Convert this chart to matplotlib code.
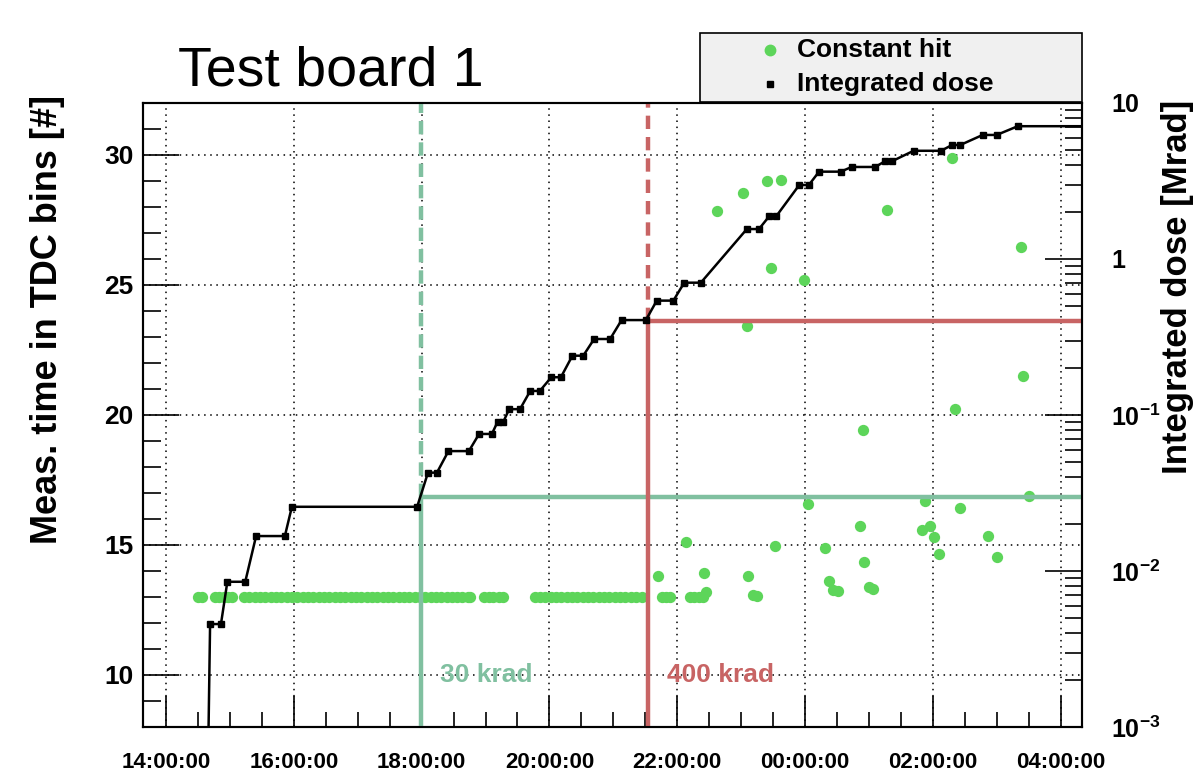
import matplotlib
matplotlib.use('Agg')
import matplotlib.pyplot as plt
from matplotlib.patches import Rectangle
from matplotlib.lines import Line2D
from matplotlib.ticker import MultipleLocator, FixedLocator, FixedFormatter, LogLocator, NullFormatter

plt.rcParams['font.family'] = ['Liberation Sans', 'DejaVu Sans']
plt.rcParams['mathtext.fontset'] = 'custom'
plt.rcParams['mathtext.bf'] = 'Liberation Sans:bold'
plt.rcParams['mathtext.rm'] = 'Liberation Sans:bold'

# time axis in hours (values past 24 are after midnight)
tick_hours = [14, 16, 18, 20, 22, 24, 26, 28]
tick_labels = ['14:00:00', '16:00:00', '18:00:00', '20:00:00',
               '22:00:00', '00:00:00', '02:00:00', '04:00:00']

# integrated dose [Mrad]
dose_time = [14.63, 14.69, 14.86, 14.96, 15.24, 15.41, 15.86, 15.97, 17.93, 18.10,
             18.24, 18.42, 18.74, 18.90, 19.10, 19.19, 19.28, 19.37, 19.54, 19.70,
             19.85, 20.03, 20.18, 20.36, 20.53, 20.70, 20.95, 21.13, 21.51, 21.68,
             21.94, 22.11, 22.37, 23.09, 23.28, 23.44, 23.55, 23.91, 24.06, 24.22,
             24.56, 24.73, 25.10, 25.25, 25.36, 25.70, 26.13, 26.30, 26.43, 26.78,
             27.00, 27.33, 28.60]
dose_val = [1e-4, 0.00457, 0.00457, 0.00853, 0.00853, 0.01675, 0.01675, 0.0258, 0.0258, 0.0427,
            0.0427, 0.0587, 0.0587, 0.0756, 0.0756, 0.0906, 0.0906, 0.109, 0.109, 0.1426,
            0.1426, 0.1746, 0.1746, 0.240, 0.240, 0.307, 0.307, 0.406, 0.406, 0.541,
            0.541, 0.705, 0.705, 1.556, 1.556, 1.88, 1.88, 2.98, 2.98, 3.63,
            3.63, 3.89, 3.89, 4.23, 4.23, 4.94, 4.94, 5.38, 5.38, 6.24,
            6.24, 7.10, 7.10]

# constant hit measurements sitting at 13 bins
row_time = [14.50, 14.56, 14.77, 14.83, 14.91, 14.97, 15.03,
            15.22, 15.30, 15.39, 15.47, 15.55, 15.64, 15.72, 15.80, 15.89, 15.97,
            16.05, 16.14, 16.22, 16.30, 16.39, 16.47, 16.55, 16.64, 16.72, 16.80,
            16.89, 16.97, 17.05, 17.14, 17.22, 17.30, 17.39, 17.47, 17.55, 17.64,
            17.72, 17.80, 17.89, 17.97, 18.05, 18.14, 18.22, 18.30, 18.39, 18.47,
            18.55, 18.64, 18.72, 18.76,
            18.98, 19.05, 19.12, 19.21, 19.27,
            19.77, 19.85, 19.93, 20.02, 20.10, 20.18, 20.27, 20.35, 20.43, 20.52,
            20.60, 20.68, 20.77, 20.85, 20.93, 21.02, 21.10, 21.18, 21.27, 21.35, 21.45,
            21.76, 21.82, 21.89,
            22.20, 22.27, 22.34, 22.40]
row_val = [13.0] * len(row_time)

# scattered constant hit measurements after ~400 krad
hit_time = [21.70, 22.13, 22.42, 22.45, 22.63, 23.03, 23.10, 23.11, 23.19, 23.25,
            23.40, 23.47, 23.53, 23.63, 23.98, 24.05, 24.31, 24.38, 24.44, 24.51,
            24.86, 24.91, 24.93, 25.00, 25.06, 25.28, 25.83, 25.88, 25.96, 26.02,
            26.09, 26.30, 26.35, 26.43, 26.86, 27.00, 27.38, 27.41, 27.51]
hit_val = [13.80, 15.13, 13.92, 13.20, 27.86, 28.54, 23.41, 13.82, 13.08, 13.03,
           29.01, 25.65, 14.97, 29.04, 25.20, 16.58, 14.88, 13.63, 13.28, 13.23,
           15.74, 19.42, 14.33, 13.37, 13.30, 27.90, 15.59, 16.69, 15.73, 15.30,
           14.67, 29.90, 20.23, 16.42, 15.33, 14.55, 26.45, 21.50, 16.88]

# dose thresholds
thr_time = [17.99, 21.54]
thr_dose = [0.03, 0.4]
thr_label = ['30 krad', '400 krad']
thr_color = ['#80c0a0', '#c86464']

x_min, x_max = 13.64, 28.335
hit_green = '#5dd55a'

fig = plt.figure(figsize=(11.97, 7.76), dpi=100)
ax = fig.add_axes([143/1197, 1-727/776, 939/1197, 624/776])
ax2 = ax.twinx()

ax.scatter(row_time + hit_time, row_val + hit_val, s=66, color=hit_green,
           linewidths=0, zorder=3)

for t, d, c in zip(thr_time, thr_dose, thr_color):
    ax2.plot([t, t], [1e-3, d], color=c, lw=3.2, solid_capstyle='butt', zorder=2)
    ax2.plot([t, t], [d, 10], color=c, lw=3.2, ls=(0, (3, 1.8)), zorder=2)
    ax2.plot([t, x_max], [d, d], color=c, lw=3.2, solid_capstyle='butt', zorder=2)

ax2.plot(dose_time, dose_val, color='black', lw=1.8, marker='s', ms=4.5, zorder=4)

for t, lab, c in zip(thr_time, thr_label, thr_color):
    ax.text(t + 0.3, 10, lab, color=c, fontsize=19, fontweight='bold', va='center',
            ha='left', zorder=5)

ax.set_xlim(x_min, x_max)
ax.set_ylim(8, 32)
ax2.set_ylim(1e-3, 10)
ax2.set_yscale('log')

ax.xaxis.set_major_locator(FixedLocator(tick_hours))
ax.xaxis.set_major_formatter(FixedFormatter(tick_labels))
ax.xaxis.set_minor_locator(MultipleLocator(0.5))
ax.yaxis.set_major_locator(MultipleLocator(5))
ax.yaxis.set_minor_locator(MultipleLocator(1))

ax2.yaxis.set_major_locator(FixedLocator([1e-3, 1e-2, 1e-1, 1, 10]))
ax2.yaxis.set_major_formatter(FixedFormatter([r'10$^{\mathbf{-3}}$', r'10$^{\mathbf{-2}}$',
                                              r'10$^{\mathbf{-1}}$', '1', '10']))
ax2.yaxis.set_minor_locator(LogLocator(base=10, subs=range(2, 10)))
ax2.yaxis.set_minor_formatter(NullFormatter())

ax.grid(True, which='major', color='black', ls=(0, (1, 3)), lw=1.1)

ax.tick_params(axis='x', which='both', direction='in', top=False, bottom=True,
               labelsize=16, pad=18, width=1.2)
ax.tick_params(axis='x', which='major', length=22)
ax.tick_params(axis='x', which='minor', length=11)
ax.tick_params(axis='y', which='both', direction='in', left=True, right=False,
               labelsize=19, pad=7, width=1.2)
ax.tick_params(axis='y', which='major', length=26)
ax.tick_params(axis='y', which='minor', length=13)
ax2.tick_params(axis='y', which='both', direction='in', right=True, left=False,
                labelsize=18, pad=21, width=1.2)
ax2.tick_params(axis='y', which='major', length=27)
ax2.tick_params(axis='y', which='minor', length=12)
for lab in ax.get_xticklabels() + ax.get_yticklabels() + ax2.get_yticklabels():
    lab.set_fontweight('bold')
for sp in list(ax.spines.values()) + list(ax2.spines.values()):
    sp.set_linewidth(1.5)

fig.text(48/1197, 1-95/776, 'Meas. time in TDC bins [#]', rotation=90, ha='center', va='top',
         fontsize=26, fontweight='bold')
fig.text(1177/1197, 1-100/776, 'Integrated dose [Mrad]', rotation=90, ha='center', va='top',
         fontsize=25, fontweight='bold')
fig.text(178/1197, 1-85/776, 'Test board 1', fontsize=40, va='baseline', ha='left')

# legend box
fig.add_artist(Rectangle((700/1197, 1-102/776), 382/1197, 69/776, transform=fig.transFigure,
                         facecolor='#f0f0f0', edgecolor='black', lw=1.2))
fig.add_artist(Line2D([770/1197], [1-50/776], marker='o', ms=7.5, color=hit_green,
                      mec=hit_green, transform=fig.transFigure))
fig.add_artist(Line2D([770/1197], [1-84/776], marker='s', ms=4.5, color='black',
                      transform=fig.transFigure))
fig.text(797/1197, 1-50/776, 'Constant hit', fontsize=19, fontweight='bold', va='center')
fig.text(797/1197, 1-84/776, 'Integrated dose', fontsize=19, fontweight='bold', va='center')

fig.savefig('out.png', dpi=100)
